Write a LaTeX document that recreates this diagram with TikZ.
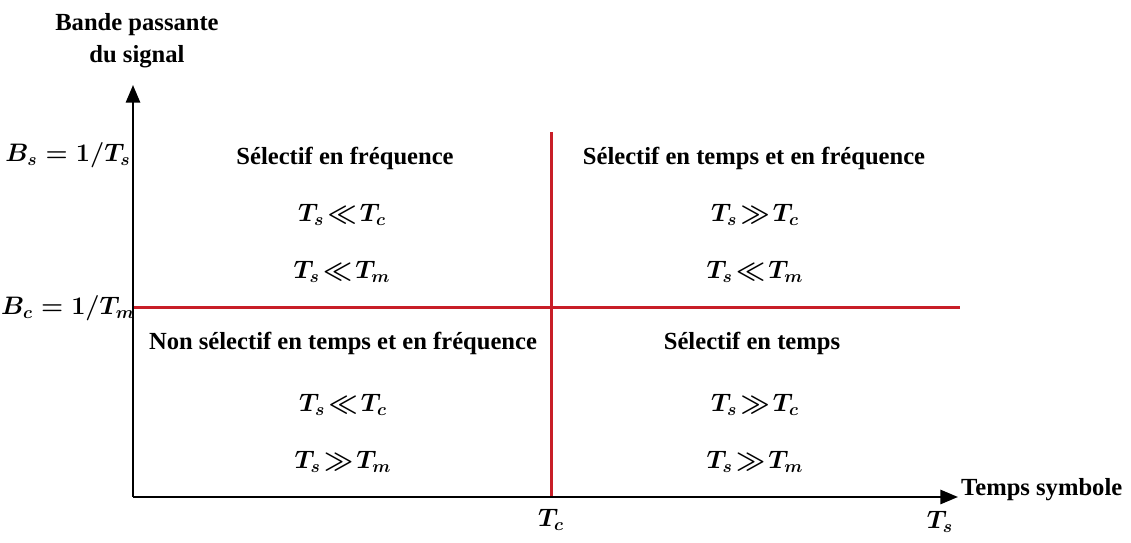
\documentclass[tikz,border=0pt]{standalone}
\usepackage{fontspec}
\setmainfont{Liberation Serif}
\usepackage{amsmath}
\usepackage{amssymb}
\usetikzlibrary{arrows.meta,positioning}
\definecolor{limRed}{RGB}{200,30,40}

\begin{document}
\begin{tikzpicture}[x=0.02cm,y=0.02cm,
    axis/.style={line width=1.4pt,-{Triangle[length=10pt,width=8pt]}},
    limit/.style={limRed,line width=1.7pt},
    title/.style={font=\fontsize{14}{16}\selectfont\bfseries},
    cond/.style={font=\fontsize{14}{16}\selectfont\boldmath},
    axlab/.style={font=\fontsize{14}{16}\selectfont\bfseries,align=center}]
  \useasboundingbox (0,0) rectangle (1131,543);
  % axes
  \coordinate (O) at (133,46);
  \coordinate (ytip) at (133,458);
  \coordinate (xtip) at (958,46);
  \coordinate (vtop) at (551,411);
  \coordinate (vbot) at (551,46);
  \coordinate (hleft) at (133,235);
  \coordinate (hright) at (960,235);
  % red limits
  \draw[limit] (vbot) -- (vtop);
  \draw[limit] (hleft) -- (hright);
  \draw[axis] (O) -- (ytip);
  \draw[axis] (O) -- (xtip);
  % axis labels
  \node[axlab] (band) at (137,502) {Bande passante\\[2pt]du signal};
  \node[axlab,anchor=west] (tsym) at (955,53) {Temps symbole};
  \node[cond] (bs) at (68,388) {$B_s=1/T_s$};
  \node[cond] (bc) at (68,235) {$B_c=1/T_m$};
  \node[cond] (tc) at (551,23) {$T_c$};
  \node[cond] (ts) at (940,21) {$T_s$};
  % quadrants
  \node[title] (q1) at (345,385) {Sélectif en fréquence};
  \node[cond] (q1a) at (342,328) {$T_s\!\ll\! T_c$};
  \node[cond] (q1b) at (342,271) {$T_s\!\ll\! T_m$};
  \node[title] (q2) at (754,385) {Sélectif en temps et en fréquence};
  \node[cond] (q2a) at (755,328) {$T_s\!\gg\! T_c$};
  \node[cond] (q2b) at (755,271) {$T_s\!\ll\! T_m$};
  \node[title] (q3) at (343,200) {Non sélectif en temps et en fréquence};
  \node[cond] (q3a) at (343,138) {$T_s\!\ll\! T_c$};
  \node[cond] (q3b) at (343,81) {$T_s\!\gg\! T_m$};
  \node[title] (q4) at (752,200) {Sélectif en temps};
  \node[cond] (q4a) at (755,138) {$T_s\!\gg\! T_c$};
  \node[cond] (q4b) at (755,81) {$T_s\!\gg\! T_m$};
\end{tikzpicture}
\end{document}
